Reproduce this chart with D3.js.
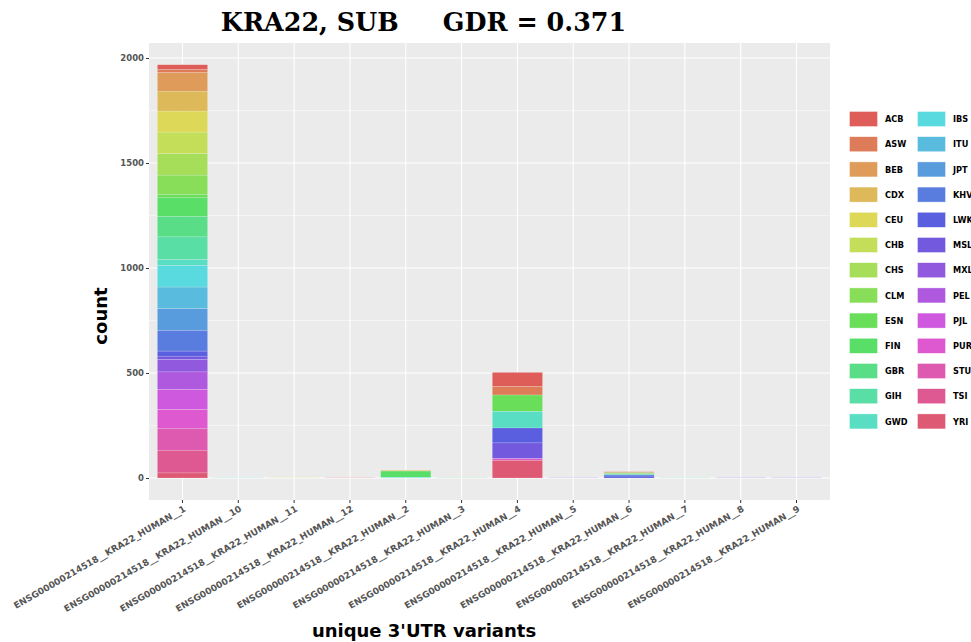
<!DOCTYPE html>
<html>
<head>
<meta charset="utf-8">
<script src="https://cdn.jsdelivr.net/npm/d3@7"></script>
<style>
  html, body { margin: 0; padding: 0; background: #ffffff; overflow: hidden; }
  svg { display: block; font-family: "DejaVu Sans", sans-serif; }
</style>
</head>
<body>
<svg id="chart" width="971" height="642"></svg>
<script>
// 3'UTR variants of KRA22 (x axis order as drawn)
const categories = [
  "ENSG00000214518__KRA22_HUMAN__1",
  "ENSG00000214518__KRA22_HUMAN__10",
  "ENSG00000214518__KRA22_HUMAN__11",
  "ENSG00000214518__KRA22_HUMAN__12",
  "ENSG00000214518__KRA22_HUMAN__2",
  "ENSG00000214518__KRA22_HUMAN__3",
  "ENSG00000214518__KRA22_HUMAN__4",
  "ENSG00000214518__KRA22_HUMAN__5",
  "ENSG00000214518__KRA22_HUMAN__6",
  "ENSG00000214518__KRA22_HUMAN__7",
  "ENSG00000214518__KRA22_HUMAN__8",
  "ENSG00000214518__KRA22_HUMAN__9"
];

// 1000 Genomes populations (fill groups)
const populations = ["ACB","ASW","BEB","CDX","CEU","CHB","CHS","CLM","ESN","FIN","GBR","GIH","GWD",
                     "IBS","ITU","JPT","KHV","LWK","MSL","MXL","PEL","PJL","PUR","STU","TSI","YRI"];

const popColors = ["#DE5D59","#DE7C59","#DE9B59","#DEB959","#DED859","#C5DE59","#A6DE59","#88DE59","#68DE59",
                   "#59DE68","#59DE87","#59DEA5","#59DEC4","#59DADE","#59BBDE","#599CDE","#597DDE","#595FDE",
                   "#7259DE","#9159DE","#AF59DE","#CE59DE","#DE59CF","#DE59B0","#DE5992","#DE5973"];

// counts per population for each variant (same order as populations)
const counts_1  = [22,16,88,95,100,103,102,92,16,88,98,108,28,103,103,103,99,24,16,59,84,95,92,102,108,24];
const counts_10 = [0,0,0,0,0,0,0,0,0,0,0,0,0,1,0,0,0,0,0,0,0,0,0,0,0,0];
const counts_11 = [0,0,0,0,1,0,0,0,0,0,0,0,0,0,0,0,0,0,0,0,0,0,0,0,0,0];
const counts_12 = [1,0,0,0,0,0,0,0,0,0,0,0,0,0,0,0,0,0,0,0,0,0,0,0,0,0];
const counts_2  = [0,0,0,4,0,0,0,0,0,30,0,0,0,3,0,0,0,0,0,0,0,0,0,0,0,0];
const counts_3  = [0,0,0,0,0,0,0,0,0,0,1,0,0,0,0,0,0,0,0,0,0,0,0,0,0,0];
const counts_4  = [67,41,0,0,0,0,0,0,78,0,0,0,79,0,0,0,0,71,75,0,0,0,8,0,0,84];
const counts_5  = [0,0,0,0,0,0,0,0,0,0,0,0,0,0,0,0,0,0,0,1,0,0,0,0,0,0];
const counts_6  = [0,5,0,0,0,0,0,5,0,0,0,5,0,0,0,0,6,9,0,0,0,0,0,0,0,0];
const counts_7  = [0,0,0,0,0,0,0,0,0,0,0,1,0,0,0,0,0,0,0,0,0,0,0,0,0,0];
const counts_8  = [0,0,0,0,0,0,0,0,0,0,0,0,0,0,0,0,0,1,0,0,0,0,0,0,0,0];
const counts_9  = [0,0,0,0,0,0,0,0,0,0,0,0,0,0,0,0,0,0,1,0,0,0,0,0,0,0];

const yTicks = [0, 500, 1000, 1500, 2000];
const yMinor = [250, 750, 1250, 1750];

const titleText = "KRA22, SUB     GDR = 0.371";
const xTitle = "unique 3'UTR variants";
const yTitle = "count";

// ---- build table ----
const countsByVariant = [counts_1, counts_10, counts_11, counts_12, counts_2, counts_3,
                         counts_4, counts_5, counts_6, counts_7, counts_8, counts_9];
const table = categories.map((c, i) => {
  const row = { variant: c };
  populations.forEach((p, j) => { row[p] = countsByVariant[i][j]; });
  return row;
});

// ---- layout ----
const panel = { left: 149, right: 830, top: 43, bottom: 500 };

const svg = d3.select("#chart");

const x = d3.scaleBand()
  .domain(categories)
  .range([panel.left, panel.right])
  .paddingInner(0.1)
  .paddingOuter(0.15);

const y = d3.scaleLinear()
  .domain([-104.8, 2071.5])
  .range([panel.bottom, panel.top]);

const color = d3.scaleOrdinal().domain(populations).range(popColors);

// panel background
svg.append("rect")
  .attr("x", panel.left).attr("y", panel.top)
  .attr("width", panel.right - panel.left).attr("height", panel.bottom - panel.top)
  .attr("fill", "#EBEBEB");

// grid
const grid = svg.append("g");
grid.selectAll("line.minor").data(yMinor).join("line")
  .attr("x1", panel.left).attr("x2", panel.right)
  .attr("y1", d => y(d)).attr("y2", d => y(d))
  .attr("stroke", "#ffffff").attr("stroke-width", 0.6).attr("opacity", 0.8);
grid.selectAll("line.major").data(yTicks).join("line")
  .attr("x1", panel.left).attr("x2", panel.right)
  .attr("y1", d => y(d)).attr("y2", d => y(d))
  .attr("stroke", "#ffffff").attr("stroke-width", 1.1);
grid.selectAll("line.vert").data(categories).join("line")
  .attr("x1", d => x(d) + x.bandwidth() / 2).attr("x2", d => x(d) + x.bandwidth() / 2)
  .attr("y1", panel.top).attr("y2", panel.bottom)
  .attr("stroke", "#ffffff").attr("stroke-width", 1.1);

// stacked bars, first population on top
const stack = d3.stack().keys(populations).order(d3.stackOrderReverse);
const series = stack(table);

svg.append("g").selectAll("g").data(series).join("g")
  .attr("fill", d => color(d.key))
  .selectAll("rect").data(d => d).join("rect")
  .attr("x", d => x(d.data.variant))
  .attr("width", x.bandwidth())
  .attr("y", d => y(d[1]))
  .attr("height", d => Math.max(0, y(d[0]) - y(d[1])))
  .attr("stroke", "rgba(255,255,255,0.35)")
  .attr("stroke-width", d => (d[1] - d[0]) > 0 ? 0.5 : 0);

// y axis
const yAxis = d3.axisLeft(y).tickValues(yTicks).tickFormat(d3.format("d")).tickSize(3).tickPadding(2);
const gy = svg.append("g").attr("transform", `translate(${panel.left},0)`).call(yAxis);
gy.select(".domain").remove();
gy.selectAll(".tick line").attr("stroke", "#333333").attr("stroke-width", 1);
gy.selectAll(".tick text")
  .style("font-family", "'DejaVu Sans'").style("font-weight", "bold")
  .style("font-size", "8.5px").attr("fill", "#555555");

// x axis
const xAxis = d3.axisBottom(x).tickSize(3).tickPadding(2);
const gx = svg.append("g").attr("transform", `translate(0,${panel.bottom})`).call(xAxis);
gx.select(".domain").remove();
gx.selectAll(".tick line").attr("stroke", "#333333").attr("stroke-width", 1);
gx.selectAll(".tick text")
  .style("font-family", "'DejaVu Sans'").style("font-weight", "bold")
  .style("font-size", "9px").attr("fill", "#555555")
  .attr("text-anchor", "end")
  .attr("dy", "0.55em")
  .attr("transform", "translate(-1,2) rotate(-30)");

// axis titles
svg.append("text")
  .attr("x", 424).attr("y", 637)
  .attr("text-anchor", "middle")
  .style("font-family", "'DejaVu Sans'").style("font-weight", "bold")
  .style("font-size", "18px").attr("fill", "#000")
  .text(xTitle);

svg.append("text")
  .attr("transform", "translate(107,316) rotate(-90)")
  .attr("text-anchor", "middle")
  .style("font-family", "'DejaVu Sans'").style("font-weight", "bold")
  .style("font-size", "18px").attr("fill", "#000")
  .text(yTitle);

// title
svg.append("text")
  .attr("x", 423.5).attr("y", 30.7)
  .attr("text-anchor", "middle")
  .style("font-family", "'DejaVu Serif', serif").style("font-weight", "bold")
  .style("font-size", "25.4px").attr("fill", "#000")
  .style("white-space", "pre")
  .text(titleText);

// legend: two columns of 13 (second column runs past the right edge)
const legend = svg.append("g");
const rowsPerCol = 13;
const legendItems = legend.selectAll("g").data(populations).join("g")
  .attr("transform", (d, i) => {
    const col = Math.floor(i / rowsPerCol), row = i % rowsPerCol;
    return `translate(${849.5 + col * 68},${111.5 + row * 25.2})`;
  });
legendItems.append("rect")
  .attr("width", 28).attr("height", 15)
  .attr("fill", d => color(d))
  .attr("stroke", "rgba(255,255,255,0.6)").attr("stroke-width", 0.6);
legendItems.append("text")
  .attr("x", 35.5).attr("y", 10.8)
  .style("font-family", "'DejaVu Sans'").style("font-weight", "bold")
  .style("font-size", "8.2px").attr("fill", "#000")
  .text(d => d);
</script>
</body>
</html>
